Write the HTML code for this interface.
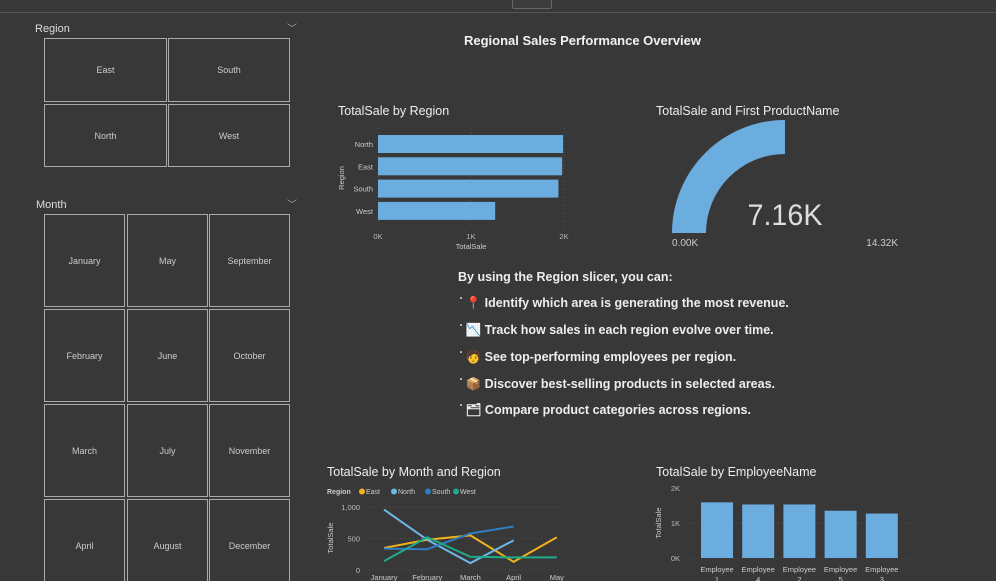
<!DOCTYPE html>
<html style="overflow:hidden;width:996px;height:581px"><head><meta charset="utf-8"><style>
body{margin:0;width:996px;height:581px;overflow:hidden;background:#383838;font-family:"Liberation Sans","Noto Sans CJK SC",sans-serif;color:#ddd;position:relative}
.a{position:absolute}
.box{position:absolute;border:1.5px solid #aaa;box-sizing:border-box;display:flex;align-items:center;justify-content:center;font-size:9px;color:#ccc}
.t{position:absolute;font-size:12.5px;color:#eee}
.li{position:absolute;left:458px;font-size:12.5px;font-weight:bold;color:#eee}
</style></head><body>
<div class="a" style="left:0;top:0;width:996px;height:12px;border-bottom:1px solid #555"></div>
<div class="a" style="left:512px;top:-2px;width:38px;height:9px;border:1px solid #666;border-radius:2px;background:#3d3d3d"></div>

<div class="a" style="left:35px;top:23px;font-size:11px;color:#ddd">Region</div>
<div class="a" style="left:287px;top:20px;font-size:10px;color:#aaa">﹀</div>
<div class="box" style="left:44px;top:38px;width:123px;height:64px">East</div>
<div class="box" style="left:168px;top:38px;width:122px;height:64px">South</div>
<div class="box" style="left:44px;top:104px;width:123px;height:63px">North</div>
<div class="box" style="left:168px;top:104px;width:122px;height:63px">West</div>

<div class="a" style="left:36px;top:199px;font-size:11px;color:#ddd">Month</div>
<div class="a" style="left:287px;top:196px;font-size:10px;color:#aaa">﹀</div>
<div id="months" class="a" style="left:0;top:0;width:996px;height:581px;overflow:hidden"></div>

<div class="a" style="left:464px;top:33px;font-size:13px;font-weight:bold;color:#f2f2f2">Regional Sales Performance Overview</div>

<div class="t" style="left:338px;top:104px">TotalSale by Region</div>
<div class="t" style="left:656px;top:104px">TotalSale and First ProductName</div>
<div class="t" style="left:327px;top:465px">TotalSale by Month and Region</div>
<div class="t" style="left:656px;top:465px">TotalSale by EmployeeName</div>

<div class="li" style="top:270px">By using the Region slicer, you can:</div>
<div class="li" style="top:296px;left:460px"><span style="font-size:6px;vertical-align:top">•</span> 📍 Identify which area is generating the most revenue.</div>
<div class="li" style="top:323px;left:460px"><span style="font-size:6px;vertical-align:top">•</span> 📉 Track how sales in each region evolve over time.</div>
<div class="li" style="top:350px;left:460px"><span style="font-size:6px;vertical-align:top">•</span> 🧑 See top-performing employees per region.</div>
<div class="li" style="top:377px;left:460px"><span style="font-size:6px;vertical-align:top">•</span> 📦 Discover best-selling products in selected areas.</div>
<div class="li" style="top:403px;left:460px"><span style="font-size:6px;vertical-align:top">•</span> 🗂 Compare product categories across regions.</div>

<svg class="a" id="svg" style="left:0;top:0" width="996" height="581" font-family="Liberation Sans, sans-serif"></svg>

<script>
const months=[["January","May","September"],["February","June","October"],["March","July","November"],["April","August","December"]];
const mc=document.getElementById('months');
const cx=[44,127,209],rw=[214,309,404,499];
months.forEach((r,i)=>r.forEach((m,j)=>{const d=document.createElement('div');d.className='box';d.textContent=m;


d.style.left=cx[j]+'px';d.style.top=rw[i]+'px';d.style.width='81px';d.style.height='93px';mc.appendChild(d);}));

const regions=["North","East","South","West"];
const regionSales=[1990,1980,1940,1260];
const barTicks=[0,1000,2000];
const barTickLabels=["0K","1K","2K"];

const lineMonths=["January","February","March","April","May"];
const lineSeriesNames=["East","North","South","West"];
const eastVals=[350,480,550,130,520];
const northVals=[960,480,110,470,null];
const southVals=[340,330,580,690,null];
const westVals=[140,520,210,200,200];
const lineTicks=[0,500,1000];
const lineTickLabels=["0","500","1,000"];

const employees=["Employee 1","Employee 4","Employee 2","Employee 5","Employee 3"];
const empSales=[1590,1530,1530,1350,1270];
const empTicks=[0,1000,2000];
const empTickLabels=["0K","1K","2K"];

const gaugeValue=7160, gaugeMax=14320;

const S=document.getElementById('svg'),NS='http://www.w3.org/2000/svg';
function el(t,a,txt){const e=document.createElementNS(NS,t);for(const k in a)e.setAttribute(k,a[k]);if(txt!=null)e.textContent=txt;S.appendChild(e);return e;}

// bar chart
const bx=v=>378+v/2000*186;
barTicks.forEach((t,i)=>{const g=el('line',{x1:bx(t),x2:bx(t),y1:128,y2:228,stroke:'#555','stroke-dasharray':'1,3'});

const l=el('text',{x:bx(t),y:239,'font-size':7.5,fill:'#bbb','text-anchor':'middle'},barTickLabels[i]);
});
regions.forEach((r,i)=>{const y=135+i*22.3;
const b=el('rect',{x:378,y:y,width:bx(regionSales[i])-378,height:18,fill:'#6cade0'});

const l=el('text',{x:373,y:y+12,'font-size':7.5,fill:'#ccc','text-anchor':'end'},r);
});
let e=el('text',{x:471,y:249,'font-size':7.5,fill:'#ccc','text-anchor':'middle'},'TotalSale');
e=el('text',{x:344,y:178,'font-size':7.5,fill:'#ccc','text-anchor':'middle',transform:'rotate(-90 344 178)'},'Region');

// gauge
const gcx=785,gcy=233,R=113,r=79;
const ang=Math.PI*(1-gaugeValue/gaugeMax);
const px=(rad,a)=>[gcx+rad*Math.cos(a),gcy-rad*Math.sin(a)];
const [ox,oy]=px(R,ang),[ix,iy]=px(r,ang);
e=el('path',{d:`M${gcx-R},${gcy} A${R},${R} 0 0 1 ${ox},${oy} L${ix},${iy} A${r},${r} 0 0 0 ${gcx-r},${gcy} Z`,fill:'#6cade0'});

e=el('text',{x:785,y:225,'font-size':30,fill:'#ddd','text-anchor':'middle','textLength':75,'lengthAdjust':'spacingAndGlyphs'},(gaugeValue/1000).toFixed(2)+'K');
e=el('text',{x:672,y:246,'font-size':10,fill:'#ccc'},'0.00K');
e=el('text',{x:898,y:246,'font-size':10,fill:'#ccc','text-anchor':'end'},(gaugeMax/1000).toFixed(2)+'K');

// line chart
const lx=i=>384+i*43.2, ly=v=>570-v/1000*63;
lineTicks.forEach((t,i)=>{const g=el('line',{x1:365,x2:560,y1:ly(t),y2:ly(t),stroke:'#555','stroke-dasharray':'1,3'});

const l=el('text',{x:360,y:ly(t)+3,'font-size':7.5,fill:'#bbb','text-anchor':'end'},lineTickLabels[i]);
});
lineMonths.forEach((m,i)=>{const l=el('text',{x:lx(i),y:580,'font-size':7.5,fill:'#ccc','text-anchor':'middle'},m);
});
e=el('text',{x:333,y:538,'font-size':7.5,fill:'#ccc','text-anchor':'middle',transform:'rotate(-90 333 538)'},'TotalSale');
const cols=['#f2b21c','#6cb8e6','#2f7ec4','#1fab8a'];
const all=[eastVals,northVals,southVals,westVals];
e=el('text',{x:327,y:494,'font-size':7,'font-weight':'bold',fill:'#ccc'},'Region');
const lgx=[362,394,428,456];
lineSeriesNames.forEach((n,k)=>{const c=el('circle',{cx:lgx[k],cy:491.5,r:3,fill:cols[k]});
const t=el('text',{x:lgx[k]+4,y:494,'font-size':7,fill:'#ccc'},n);
const pts=all[k].map((v,i)=>v==null?null:lx(i)+','+ly(v)).filter(p=>p);
const p=el('polyline',{points:pts.join(' '),fill:'none',stroke:cols[k],'stroke-width':2});
});

// employee chart
const ey=v=>558-v/2000*70;
empTicks.forEach((t,i)=>{const g=el('line',{x1:685,x2:912,y1:ey(t),y2:ey(t),stroke:'#555','stroke-dasharray':'1,3'});

const l=el('text',{x:680,y:ey(t)+3,'font-size':7.5,fill:'#bbb','text-anchor':'end'},empTickLabels[i]);
});
e=el('text',{x:661,y:523,'font-size':7.5,fill:'#ccc','text-anchor':'middle',transform:'rotate(-90 661 523)'},'TotalSale');
employees.forEach((n,i)=>{const x=701+i*41.2;
const b=el('rect',{x:x,y:ey(empSales[i]),width:32,height:558-ey(empSales[i]),fill:'#6cade0'});

const p=n.split(' ');
const l=el('text',{x:x+16,y:572,'font-size':7.5,fill:'#ccc','text-anchor':'middle'},p[0]);
const l2=el('text',{x:x+16,y:582,'font-size':7.5,fill:'#ccc','text-anchor':'middle'},p[1]);});
</script>
</body></html>
